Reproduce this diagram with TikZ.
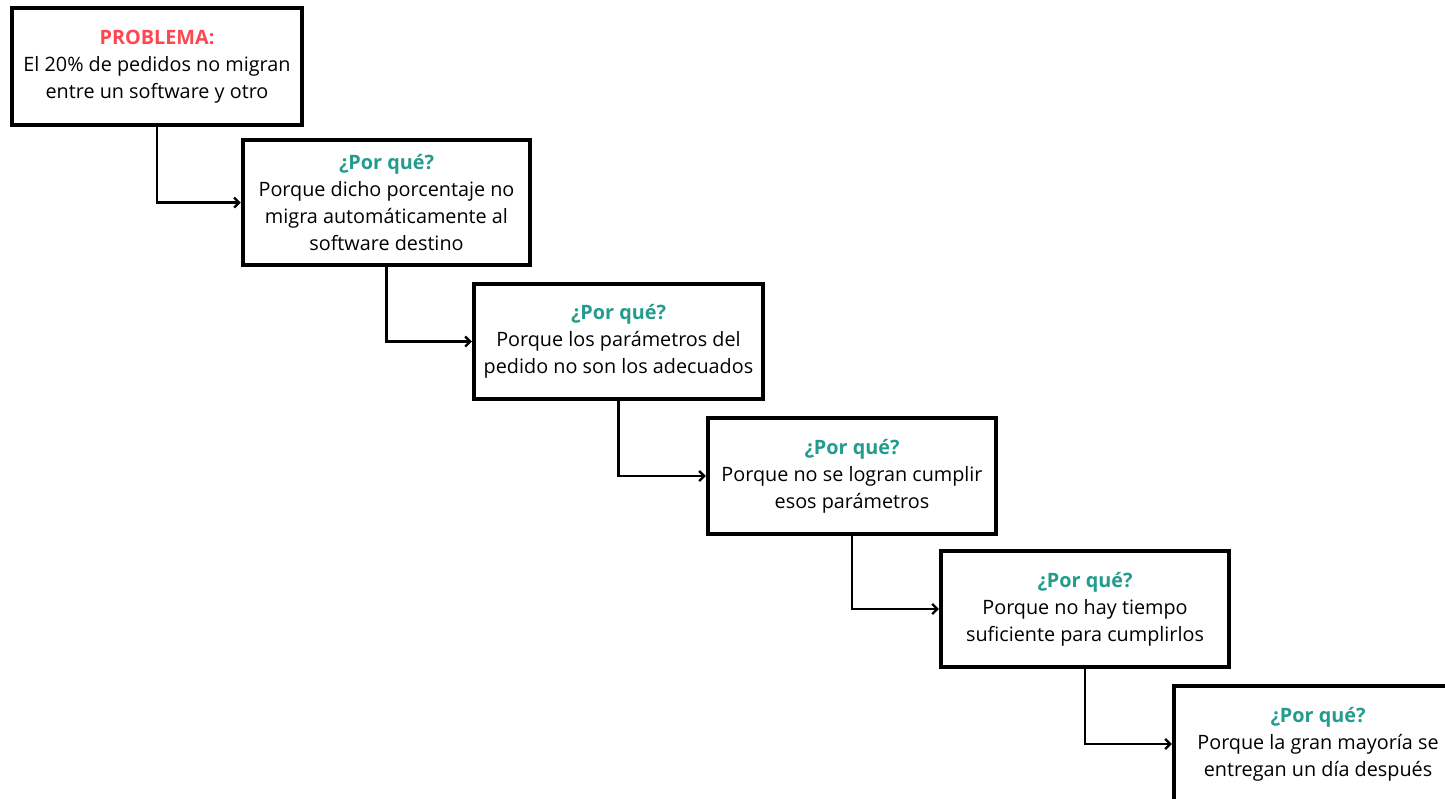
\documentclass[tikz,border=0pt]{standalone}
\usepackage{fontspec}
\setmainfont{Open Sans}
\usetikzlibrary{arrows.meta}
\definecolor{probred}{HTML}{FF4650}
\definecolor{whyteal}{HTML}{239C8E}
\tikzset{
  whybox/.style={draw=black, line width=4.5pt, fill=white, minimum width=288pt, minimum height=116pt,
    align=center, font=\fontsize{19.8}{26.8}\selectfont, inner sep=0pt},
  conn/.style={draw=black, line width=2.3pt, -{Straight Barb[length=5pt,width=10pt,line width=2.3pt]}}
}
\newcommand{\whyhead}{\textcolor{whyteal}{\textbf{¿Por qué?}}}
\begin{document}
\begin{tikzpicture}[x=1pt,y=1pt]
\useasboundingbox[fill=white] (0,0) rectangle (1445,-798);
\node[whybox, minimum width=290pt, minimum height=117pt] (b1) at (157,-66.5)
  {\textcolor{probred}{\textbf{PROBLEMA:}}\\El 20\% de pedidos no migran\\entre un software y otro};
\node[whybox, minimum width=287pt, minimum height=125pt] (b2) at (386.5,-202.5)
  {\whyhead\\Porque dicho porcentaje no\\migra automáticamente al\\software destino};
\node[whybox, minimum width=289pt, minimum height=115pt] (b3) at (618.5,-341.5)
  {\whyhead\\Porque los parámetros del\\pedido no son los adecuados};
\node[whybox, minimum width=288pt, minimum height=116pt] (b4) at (852,-476)
  {\whyhead\\Porque no se logran cumplir\\esos parámetros};
\node[whybox, minimum width=288pt, minimum height=116pt] (b5) at (1085,-609)
  {\whyhead\\Porque no hay tiempo\\suficiente para cumplirlos};
\node[whybox, minimum width=288pt, minimum height=116pt] (b6) at (1318,-744)
  {\whyhead\\Porque la gran mayoría se\\entregan un día después};
\draw[conn] (b1.south) |- (b2.west);
\draw[conn] (b2.south) |- (b3.west);
\draw[conn] (b3.south) |- (b4.west);
\draw[conn] (b4.south) |- (b5.west);
\draw[conn] (b5.south) |- (b6.west);
\end{tikzpicture}
\end{document}
